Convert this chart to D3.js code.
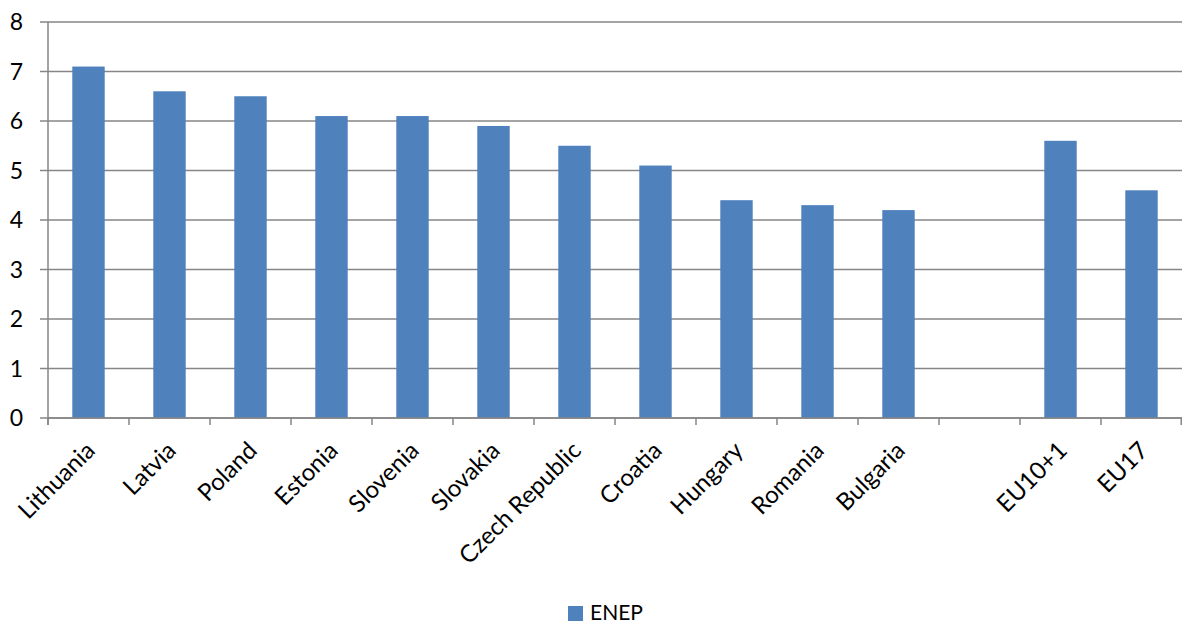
<!DOCTYPE html>
<html><head><meta charset="utf-8">
<script src="https://cdn.jsdelivr.net/npm/d3@7"></script>
<style>
html,body{margin:0;padding:0;background:#fff;}
svg{display:block;}
text{font-family:Lato, "Open Sans", sans-serif;fill:#000;}
</style></head>
<body><svg id="c" width="1182" height="625"></svg>
<script>
const categories = ["Lithuania","Latvia","Poland","Estonia","Slovenia","Slovakia","Czech Republic","Croatia","Hungary","Romania","Bulgaria","","EU10+1","EU17"];
const enep = [7.1,6.6,6.5,6.1,6.1,5.9,5.5,5.1,4.4,4.3,4.2,null,5.6,4.6];
const yTicks = [0,1,2,3,4,5,6,7,8];
const seriesName = "ENEP";

const svg = d3.select("#c");
const pL = 48, pR = 1182, pT = 22, pB = 418;
const keys = categories.map((c,i)=>i);
const x = d3.scaleBand().domain(keys).range([pL,pR]).padding(0);
const y = d3.scaleLinear().domain([0,8]).range([pB,pT]);
const grey = "#868686";

// gridlines
svg.append("g").selectAll("line").data(yTicks).join("line")
  .attr("x1", pL-8).attr("x2", pR)
  .attr("y1", d=>y(d)).attr("y2", d=>y(d))
  .attr("stroke", grey).attr("stroke-width", 1.5);

// y labels
svg.append("g").selectAll("text").data(yTicks).join("text")
  .attr("x", 23).attr("y", d=>y(d)).attr("dy","0.36em")
  .attr("text-anchor","end").attr("font-size",23).text(d=>d);

// bars
const bw = x.bandwidth()*0.4;
svg.append("g").selectAll("rect").data(enep.map((v,i)=>({v,i})).filter(d=>d.v!=null)).join("rect")
  .attr("x", d=>x(d.i)+x.bandwidth()/2-bw/2)
  .attr("width", bw)
  .attr("y", d=>y(d.v))
  .attr("height", d=>y(0)-y(d.v))
  .attr("fill","#4F81BD");

// y axis line
svg.append("line").attr("x1",pL).attr("x2",pL).attr("y1",pT).attr("y2",pB+7)
  .attr("stroke",grey).attr("stroke-width",1.5);
// x axis line
svg.append("line").attr("x1",pL).attr("x2",pR).attr("y1",pB).attr("y2",pB)
  .attr("stroke",grey).attr("stroke-width",1.5);
// boundary ticks
const bounds = keys.map(k=>x(k)).concat([pR-0.75]);
svg.append("g").selectAll("line").data(bounds).join("line")
  .attr("x1",d=>d).attr("x2",d=>d).attr("y1",pB).attr("y2",pB+7)
  .attr("stroke",grey).attr("stroke-width",1.5);

// x labels
svg.append("g").selectAll("text").data(keys).join("text")
  .attr("transform", k=>`translate(${x(k)+x.bandwidth()/2+8},${pB+34}) rotate(-45)`)
  .attr("text-anchor","end").attr("font-size",24)
  .text(k=>categories[k]);

// legend
svg.append("rect").attr("x",568).attr("y",606).attr("width",15).attr("height",15).attr("fill","#4F81BD");
svg.append("text").attr("x",590).attr("y",620).attr("font-size",21).text(seriesName);
</script></body></html>
